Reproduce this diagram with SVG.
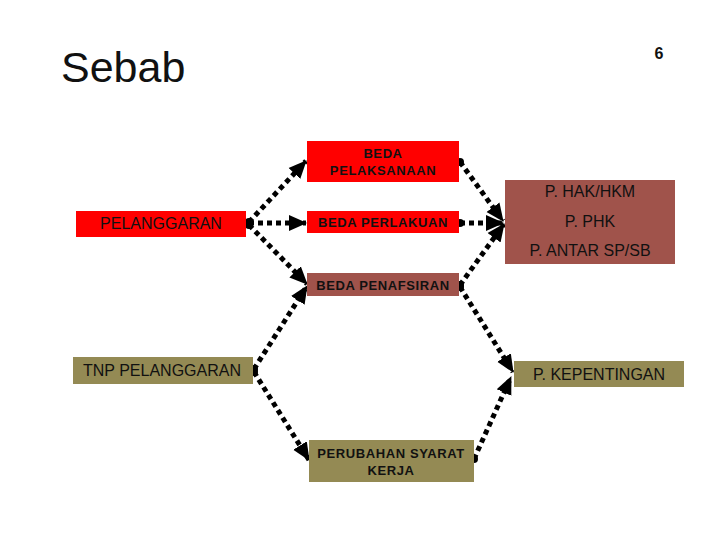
<svg xmlns="http://www.w3.org/2000/svg" width="720" height="540" viewBox="0 0 720 540">
<style>
.red{fill:#FF0000}
.brn{fill:#A0534B}
.olv{fill:#948A54}
.t{font-family:"Liberation Sans",Arial,sans-serif;fill:#111;text-anchor:middle}
.b{font-weight:bold;font-size:13px;letter-spacing:0.6px}
.n{font-size:16px}
.c{fill:none;stroke:#000;stroke-width:5;stroke-dasharray:5 4;marker-start:url(#dot);marker-end:url(#arr)}
</style>
<defs>
<marker id="arr" markerUnits="userSpaceOnUse" markerWidth="18" markerHeight="18" viewBox="0 0 18 18" refX="17" refY="9" orient="auto"><path d="M0,1 L18,9 L0,17 Z" fill="#000"/></marker>
<marker id="dot" markerUnits="userSpaceOnUse" markerWidth="9" markerHeight="9" viewBox="0 0 9 9" refX="4.5" refY="4.5"><circle cx="4.5" cy="4.5" r="4" fill="#000"/></marker>
</defs>
<rect width="720" height="540" fill="#fff"/>
<text x="61" y="82" font-family="Liberation Sans,Arial,sans-serif" font-size="43" fill="#111">Sebab</text>
<text x="659" y="59" font-family="Liberation Sans,Arial,sans-serif" font-size="16" font-weight="bold" fill="#111" text-anchor="middle">6</text>
<g id="connectors">
<path class="c" d="M249,222 L306,161"/>
<path class="c" d="M249,223 L306,223"/>
<path class="c" d="M249,225 L307,284"/>
<path class="c" d="M254,369 L307,286"/>
<path class="c" d="M254,372 L309,460"/>
<path class="c" d="M460,162 L503,221"/>
<path class="c" d="M460,223 L503,223"/>
<path class="c" d="M460,285 L504,224"/>
<path class="c" d="M460,287 L513,372"/>
<path class="c" d="M474,459 L511,377"/>
</g>
<g id="beda-pelaksanaan"><rect class="red" x="307" y="141" width="152" height="41"/><text class="t b" x="383" y="158">BEDA</text><text class="t b" x="383" y="175">PELAKSANAAN</text></g>
<g id="beda-perlakuan"><rect class="red" x="307" y="211" width="152" height="22"/><text class="t b" x="383" y="227">BEDA PERLAKUAN</text></g>
<g id="pelanggaran"><rect class="red" x="76" y="211" width="170" height="26"/><text class="t n" x="161" y="229">PELANGGARAN</text></g>
<g id="beda-penafsiran"><rect class="brn" x="307" y="273" width="152" height="23"/><text class="t b" x="383" y="290">BEDA PENAFSIRAN</text></g>
<g id="tnp-pelanggaran"><rect class="olv" x="73" y="357" width="180" height="27"/><text class="t" x="162" y="376" font-size="16">TNP PELANGGARAN</text></g>
<g id="perubahan"><rect class="olv" x="309" y="440" width="165" height="42"/><text class="t b" x="391" y="458">PERUBAHAN SYARAT</text><text class="t b" x="391" y="475">KERJA</text></g>
<g id="p-hak"><rect class="brn" x="505" y="180" width="170" height="84"/><text class="t n" x="590" y="197">P. HAK/HKM</text><text class="t n" x="590" y="227">P. PHK</text><text class="t n" x="590" y="256">P. ANTAR SP/SB</text></g>
<g id="p-kepentingan"><rect class="olv" x="514" y="361" width="170" height="26"/><text class="t n" x="599" y="380">P. KEPENTINGAN</text></g>
</svg>
